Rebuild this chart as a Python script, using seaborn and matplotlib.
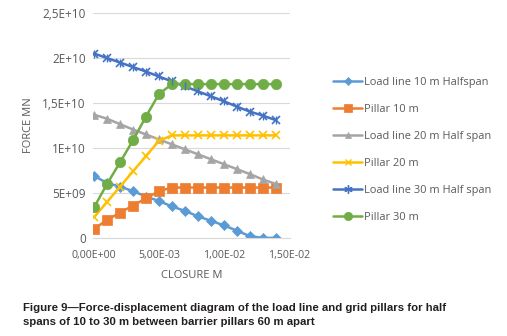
import matplotlib
matplotlib.use("Agg")
import matplotlib.pyplot as plt
import seaborn as sns
import pandas as pd
import numpy as np
from matplotlib.ticker import FixedLocator, FixedFormatter
from matplotlib.lines import Line2D

closure = [0.0, 0.001, 0.002, 0.003, 0.004, 0.005, 0.006, 0.007, 0.008, 0.009,
           0.010, 0.011, 0.012, 0.013, 0.014]

load_10 = [6.9, 6.1, 5.7, 5.2, 4.6, 4.1, 3.5, 3.0, 2.4, 1.9, 1.4, 0.8, 0.2, 0.0, 0.0]
pillar_10 = [1.0, 2.0, 2.8, 3.6, 4.4, 5.2, 5.6, 5.6, 5.6, 5.6, 5.6, 5.6, 5.6, 5.6, 5.6]
load_20 = [13.7, 13.25, 12.65, 12.05, 11.5, 10.95, 10.4, 9.85, 9.3, 8.75, 8.2, 7.65, 7.1, 6.5, 6.0]
pillar_20 = [2.3, 4.0, 5.7, 7.4, 9.1, 10.8, 11.4, 11.4, 11.4, 11.4, 11.4, 11.4, 11.4, 11.4, 11.4]
load_30 = [20.5, 20.0, 19.5, 19.0, 18.5, 17.95, 17.4, 16.85, 16.3, 15.75, 15.2, 14.6, 14.05, 13.6, 13.1]
pillar_30 = [3.4, 6.0, 8.4, 10.85, 13.5, 16.0, 17.1, 17.1, 17.1, 17.1, 17.1, 17.1, 17.1, 17.1, 17.1]

series_names = ["Load line 10 m Halfspan", "Pillar 10 m", "Load line 20 m Half span",
                "Pillar 20 m", "Load line 30 m Half span", "Pillar 30 m"]
series_values = [load_10, pillar_10, load_20, pillar_20, load_30, pillar_30]
colors = ["#5B9BD5", "#ED7D31", "#A5A5A5", "#FFC000", "#4472C4", "#70AD47"]
markers = ["D", "s", "^", "x", "x", "o"]
marker_sizes = [5.5, 6.5, 6, 6, 6, 7.5]

y_ticks = [0, 5e9, 1e10, 1.5e10, 2e10, 2.5e10]
y_tick_labels = ["0", "5E+09", "1E+10", "1,5E+10", "2E+10", "2,5E+10"]
x_ticks = [0, 0.005, 0.010, 0.015]
x_tick_labels = ["0,00E+00", "5,00E-03", "1,00E-02", "1,50E-02"]

caption = ("Figure 9\u2014Force-displacement diagram of the load line and grid pillars for half\n"
           "spans of 10 to 30 m between barrier pillars 60 m apart")

frames = []
for name, vals in zip(series_names, series_values):
    frames.append(pd.DataFrame({"closure": closure,
                                "force": np.array(vals) * 1e9,
                                "series": name}))
df = pd.concat(frames, ignore_index=True)

sns.set_style("white")
plt.rcParams["font.family"] = ["Open Sans", "DejaVu Sans"]

fig = plt.figure(figsize=(5.07, 3.36), dpi=100)
ax = fig.add_axes([0.183, 0.292, 0.389, 0.669])

for i, name in enumerate(series_names):
    sub = df[df["series"] == name]
    sns.lineplot(data=sub, x="closure", y="force", ax=ax, color=colors[i],
                 marker=markers[i], markersize=marker_sizes[i], linewidth=1.8,
                 markeredgecolor=colors[i], markeredgewidth=1.2 if markers[i] == "x" else 0.5,
                 label=name, legend=False)

# asterisk-like marker for load line 30: overlay a '|' on the x
sub = df[df["series"] == series_names[4]]
ax.plot(sub["closure"], sub["force"], linestyle="none", marker="|",
        markersize=6, color=colors[4], markeredgewidth=1.0)

ax.set_xlim(-0.0001, 0.0151)
ax.set_ylim(0, 2.5e10)
ax.yaxis.set_major_locator(FixedLocator(y_ticks))
ax.yaxis.set_major_formatter(FixedFormatter(y_tick_labels))
ax.xaxis.set_major_locator(FixedLocator(x_ticks))
ax.xaxis.set_major_formatter(FixedFormatter(x_tick_labels))
ax.grid(axis="y", color="#D9D9D9", linewidth=0.8)
ax.set_axisbelow(True)
for s in ["top", "right", "left"]:
    ax.spines[s].set_visible(False)
ax.spines["bottom"].set_color("#D9D9D9")
ax.tick_params(axis="y", length=0, labelsize=8.5, labelcolor="#595959", pad=5)
ax.tick_params(axis="x", length=0, labelsize=7.6, labelcolor="#595959", pad=9)
ax.set_xlabel("CLOSURE M", fontsize=8, color="#595959", labelpad=6)
ax.set_ylabel("FORCE MN", fontsize=8, color="#595959", labelpad=6)

leg_handles = []
for i, name in enumerate(series_names):
    if i == 4:
        leg_handles.append(Line2D([], [], color=colors[i], marker=(6, 2, 0), markersize=6,
                                  linewidth=1.8, markeredgewidth=1.0))
    else:
        leg_handles.append(Line2D([], [], color=colors[i], marker=markers[i],
                                  markersize=marker_sizes[i] * 0.8, linewidth=1.8,
                                  markeredgewidth=1.0 if markers[i] == "x" else 0.5))
fig.legend(leg_handles, series_names, loc="upper left", bbox_to_anchor=(0.638, 0.80),
           frameon=False, fontsize=7.9, labelspacing=1.45, handlelength=2.6,
           handletextpad=0.15, labelcolor="#595959")

fig.text(0.045, 0.028, caption, fontsize=8.2, fontweight="bold",
         family=["Liberation Sans", "DejaVu Sans"],
         color="#231F20", va="bottom", ha="left", linespacing=1.4)

fig.savefig("out.png", dpi=100)
